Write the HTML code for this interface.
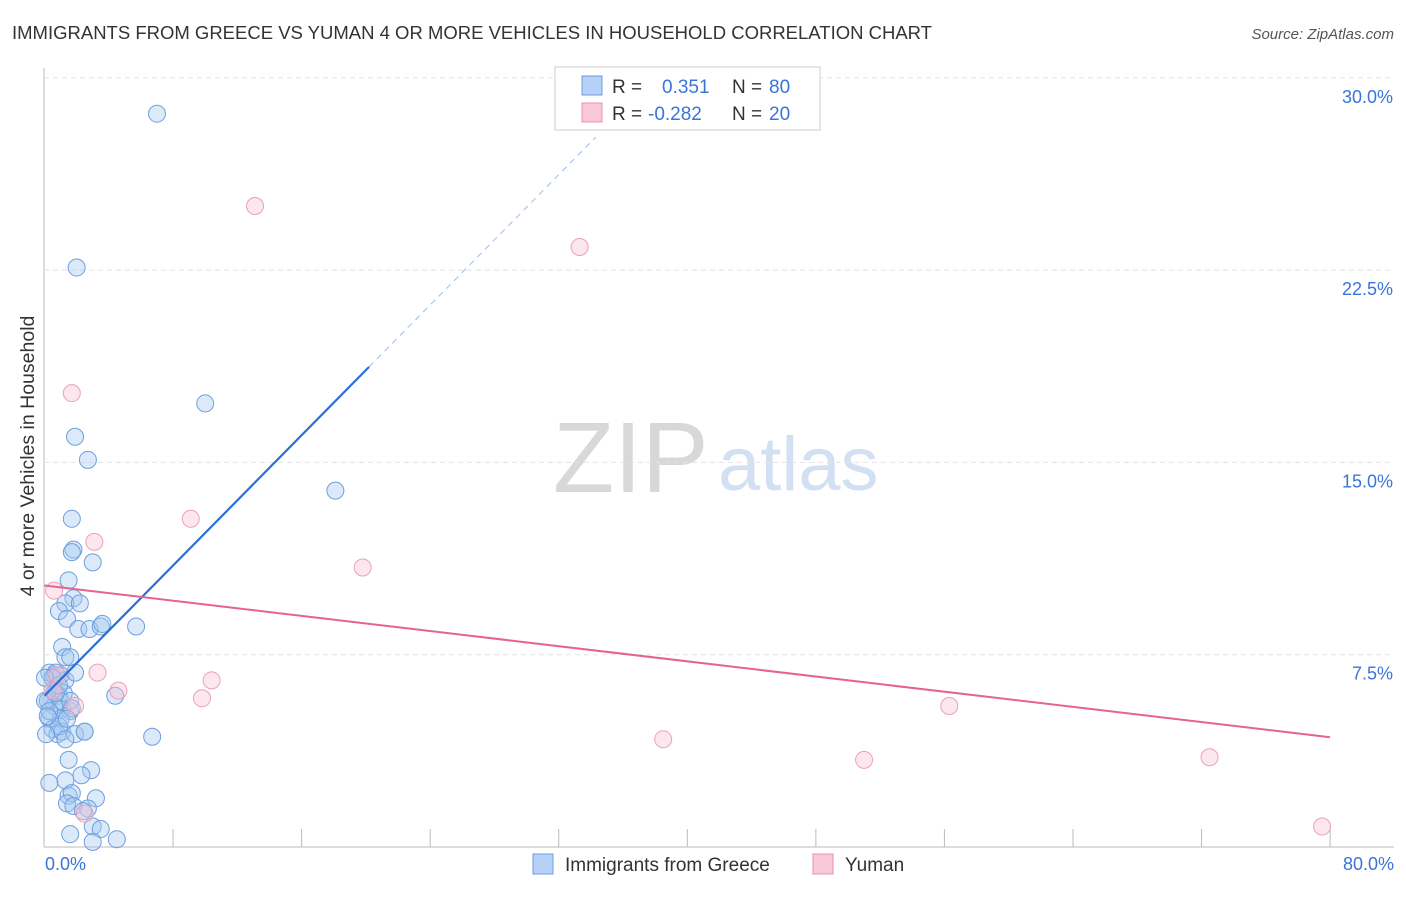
<!DOCTYPE html>
<html><head><meta charset="utf-8"><style>
body{margin:0;background:#fff;font-family:"Liberation Sans",sans-serif}
svg text{font-family:"Liberation Sans",sans-serif}
</style></head><body>
<svg id="c" width="1406" height="892">
<text x="12" y="39" font-size="18.5" fill="#333">IMMIGRANTS FROM GREECE VS YUMAN 4 OR MORE VEHICLES IN HOUSEHOLD CORRELATION CHART</text>
<text x="1394" y="39" font-size="15" fill="#555" text-anchor="end" font-style="italic">Source: ZipAtlas.com</text>
<text x="34" y="456" font-size="19.5" fill="#333" text-anchor="middle" transform="rotate(-90 34 456)">4 or more Vehicles in Household</text>
<text x="553" y="492" font-size="100" fill="#d8d8d8" font-family="Liberation Serif">ZIP</text>
<text x="718" y="490" font-size="76" fill="#d3e0f3">atlas</text>
<g id="grid"></g><g id="pts"></g><g id="lines"></g>
<g>
<rect x="555" y="67" width="265" height="63" fill="#fff" stroke="#ccc"/>
<rect x="582" y="76" width="20" height="19" fill="#b6d1f5" stroke="#6a9ee0"/>
<text x="612" y="93" font-size="19" fill="#333">R =</text><text x="662" y="93" font-size="19" fill="#3a74d8">0.351</text>
<text x="732" y="93" font-size="19" fill="#333">N =</text><text x="769" y="93" font-size="19" fill="#3a74d8">80</text>
<rect x="582" y="103" width="20" height="19" fill="#f9c9d7" stroke="#e890aa"/>
<text x="612" y="120" font-size="19" fill="#333">R =</text><text x="648" y="120" font-size="19" fill="#3a74d8">-0.282</text>
<text x="732" y="120" font-size="19" fill="#333">N =</text><text x="769" y="120" font-size="19" fill="#3a74d8">20</text>
</g>
<g>
<rect x="533" y="854" width="20" height="20" fill="#b6d1f5" stroke="#6a9ee0"/>
<text x="565" y="871" font-size="19" fill="#333">Immigrants from Greece</text>
<rect x="813" y="854" width="20" height="20" fill="#f9c9d7" stroke="#e890aa"/>
<text x="845" y="871" font-size="19" fill="#333">Yuman</text>
</g>
</svg>
<script>
const xTicks=[0,8,16,24,32,40,48,56,64,72,80];
const yTicks=[7.5,15,22.5,30];
const blueX=[7,2,10,1.9,2.7,18.1,1.7,1.8,1.7,3,1.5,1.8,1.3,2.2,0.9,1.4,2.1,2.8,3.5,3.6,5.7,1.1,1.3,1.6,0.3,0.6,1,1.3,1.9,0.5,0.9,0.2,0.6,1.1,1.6,0.3,1,0.5,0.8,1.1,1.9,2.5,2.5,4.4,6.7,1.5,2.9,2.3,1.3,0.3,1.5,1.7,3.2,2.7,1.4,1.8,2.4,3,3.5,1.6,3,4.5,0.6,0.2,0.7,0.03,1,0.3,0.5,1.2,1.6,0.9,0.1,1.3,0.7,0.03,0.2,0.9,1.7,1.4];
const blueY=[28.6,22.6,17.3,16,15.1,13.9,12.8,11.6,11.5,11.1,10.4,9.7,9.5,9.5,9.2,8.9,8.5,8.5,8.6,8.7,8.6,7.8,7.4,7.4,6.8,6.7,6.7,6.5,6.8,6.1,5.9,5.7,5.5,5.4,5.3,5,5,4.6,4.4,4.5,4.4,4.5,4.5,5.9,4.3,3.4,3,2.8,2.6,2.5,2,2.1,1.9,1.5,1.7,1.6,1.4,0.8,0.7,0.5,0.2,0.3,6,5.7,6.8,5.7,5.7,5.3,6.6,6,5.7,4.7,4.4,4.2,6,6.6,5.1,6.3,5.4,5]
const pinkX=[13.1,33.3,1.7,9.1,3.1,19.8,0.6,3.3,10.4,4.6,9.8,1.9,56.3,38.5,51,72.5,2.5,79.5,0.5,0.8];
const pinkY=[25,23.4,17.7,12.8,11.9,10.9,10,6.8,6.5,6.1,5.8,5.5,5.5,4.2,3.4,3.5,1.3,0.8,6.1,6.7];
const blueFit=[5.9,0.635], pinkFit=[10.2,-0.074];
const X=v=>44.5+v*16.07, Y=v=>847-v*25.64;
const NS="http://www.w3.org/2000/svg";
function mk(p,t,a){const e=document.createElementNS(NS,t);for(const k in a)e.setAttribute(k,a[k]);document.getElementById(p).appendChild(e);return e;}
let e=mk('grid','line',{x1:44,y1:847,x2:1394,y2:847,stroke:'#bbb'});


e=mk('grid','line',{x1:44,y1:68,x2:44,y2:847,stroke:'#bbb'});


xTicks.forEach(t=>{if(t===0)return;const l=mk('grid','line',{x1:X(t),y1:829,x2:X(t),y2:847,stroke:'#bbb'});

});
[[0,'0.0%','start',45],[80,'80.0%','end',1394]].forEach(([v,s,a,x])=>{const t=mk('grid','text',{x:x,y:870,'font-size':18,fill:'#3a74d8','text-anchor':a});t.textContent=s;

});
yTicks.forEach(v=>{const l=mk('grid','line',{x1:44,y1:Y(v),x2:1394,y2:Y(v),stroke:'#e2e2e2','stroke-dasharray':'5,4'});


const t=mk('grid','text',{x:1393,y:Y(v)+25,'font-size':18,fill:'#3a74d8','text-anchor':'end'});t.textContent=v.toFixed(1)+'%';

});
blueX.forEach((v,i)=>{const c=mk('pts','circle',{cx:X(v),cy:Y(blueY[i]),r:8.5,fill:'rgba(165,199,240,0.4)',stroke:'#6d9fe0','stroke-width':1});

});
pinkX.forEach((v,i)=>{const c=mk('pts','circle',{cx:X(v),cy:Y(pinkY[i]),r:8.5,fill:'rgba(248,195,212,0.4)',stroke:'#eda0b8','stroke-width':1});

});
const bf=x=>blueFit[0]+blueFit[1]*x, pf=x=>pinkFit[0]+pinkFit[1]*x;
e=mk('lines','line',{x1:X(0),y1:Y(bf(0)),x2:X(20.2),y2:Y(bf(20.2)),stroke:'#2a6fd6','stroke-width':2.2});


e=mk('lines','line',{x1:X(20.2),y1:Y(bf(20.2)),x2:X(34.3),y2:Y(bf(34.3)),stroke:'#9dbbe8','stroke-width':1,'stroke-dasharray':'6,5'});


e=mk('lines','line',{x1:X(0),y1:Y(pf(0)),x2:X(80),y2:Y(pf(80)),stroke:'#e5648f','stroke-width':2});


</script>
</body></html>
